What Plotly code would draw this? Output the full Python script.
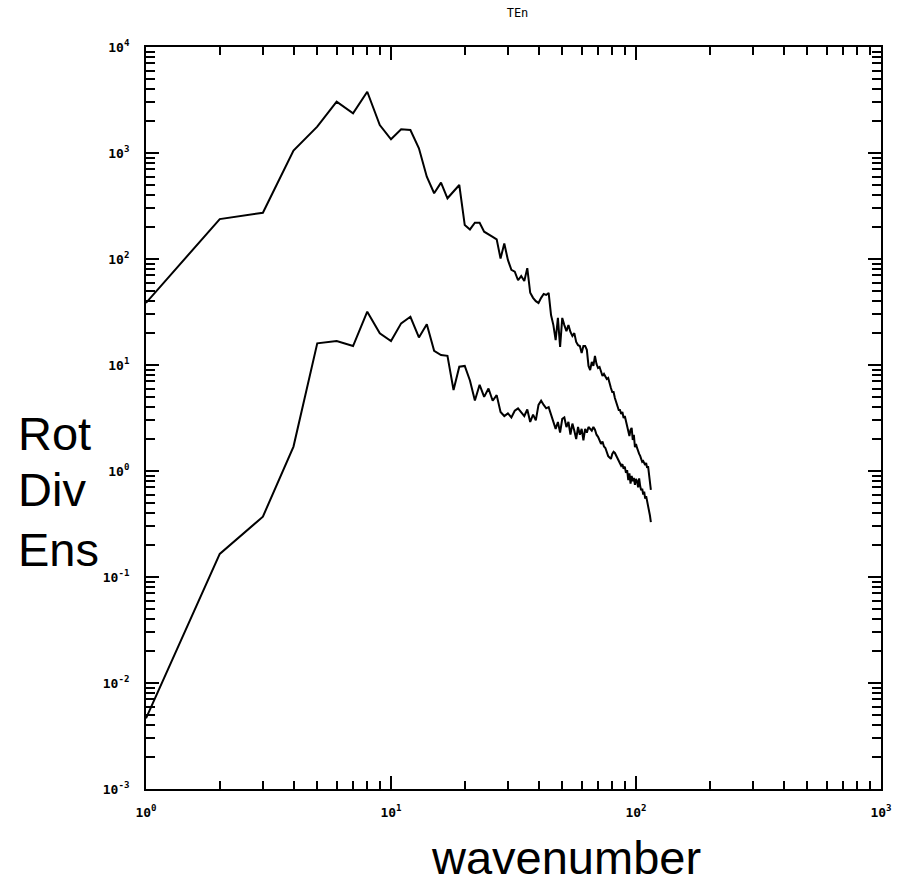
import plotly.graph_objects as go

# Spectra: integer wavenumbers 1..115
wavenumber = list(range(1, 116))

rot_spectrum = [
    38.5, 238, 273, 1052, 1770, 3050, 2370, 3785, 1837, 1346,
    1671, 1648, 1107, 597, 417, 525, 374, 431, 499, 209,
    190, 220, 220, 181, 172, 162, 153, 101, 140, 98,
    79, 76, 63, 69, 62, 82, 48, 43, 40, 38.5,
    43, 46.7, 45.8, 47.8, 29.6, 23.8, 17.2, 27.8, 14.8, 27.8,
    23.8, 20.9, 23.8, 20.5, 18.8, 20.0, 16.5, 15.4, 15.1, 13.0,
    15.1, 15.1, 13.9, 9.8, 8.97, 10.7, 9.8, 12.2, 10.2, 9.37,
    9.58, 8.59, 7.88, 8.23, 7.70, 7.38, 7.54, 6.62, 6.07, 5.56,
    5.56, 4.88, 4.48, 4.02, 3.76, 3.76, 3.45, 3.60, 3.16, 3.30,
    2.90, 2.60, 2.28, 2.14, 2.44, 2.55, 1.96, 2.19, 1.68, 1.80,
    1.65, 1.51, 1.45, 1.39, 1.27, 1.22, 1.24, 1.19, 1.14, 1.19,
    1.07, 1.11, 0.917, 0.738, 0.662,
]

div_spectrum = [
    0.00464, 0.165, 0.371, 1.70, 16.0, 16.8, 15.1, 31.8, 19.9, 16.8,
    24.7, 28.5, 18.2, 24.2, 13.6, 12.4, 12.2, 5.81, 9.64, 9.80,
    7.14, 4.62, 6.5, 5.0, 6.0, 4.6, 5.2, 3.6, 3.3, 3.5,
    3.2, 3.7, 3.9, 3.6, 3.3, 3.8, 2.9, 3.4, 3.0, 4.2,
    4.6, 4.2, 3.9, 4.0, 3.4, 2.9, 2.5, 2.9, 2.3, 3.1,
    3.2, 2.6, 2.9, 2.2, 2.8, 2.4, 2.0, 2.6, 2.2, 2.5,
    1.95, 2.5, 2.3, 2.6, 2.5, 2.4, 2.6, 2.45, 2.2, 2.1,
    1.95, 1.8, 1.9, 1.7, 1.65, 1.5, 1.38, 1.34, 1.30, 1.45,
    1.52, 1.48, 1.40, 1.35, 1.25, 1.18, 1.12, 1.16, 1.05, 1.10,
    0.96, 1.02, 0.82, 0.95, 0.76, 0.90, 0.80, 0.86, 0.74, 0.84,
    0.80, 0.70, 0.85, 0.72, 0.66, 0.68, 0.60, 0.64, 0.55, 0.58,
    0.52, 0.50, 0.45, 0.38, 0.33,
]

x_major = [1, 10, 100, 1000]
x_major_text = ["10<sup>0</sup>", "10<sup>1</sup>", "10<sup>2</sup>", "10<sup>3</sup>"]
y_major = [1e-3, 1e-2, 1e-1, 1, 10, 100, 1000, 1e4]
y_major_text = ["10<sup>-3</sup>", "10<sup>-2</sup>", "10<sup>-1</sup>", "10<sup>0</sup>",
                "10<sup>1</sup>", "10<sup>2</sup>", "10<sup>3</sup>", "10<sup>4</sup>"]

x_minor = [m * 10 ** e for e in range(0, 3) for m in range(2, 10)]
y_minor = [m * 10.0 ** e for e in range(-3, 4) for m in range(2, 10)]

line_style = dict(color="black", width=2)
tick_font = dict(family="DejaVu Sans Mono", size=13, color="black", weight="bold")
label_font = dict(family="Liberation Sans, Arial", size=47, color="black")

fig = go.Figure()
fig.add_trace(go.Scatter(x=wavenumber, y=rot_spectrum, mode="lines", line=line_style, name="Rot"))
fig.add_trace(go.Scatter(x=wavenumber, y=div_spectrum, mode="lines", line=line_style, name="Div"))

axis_common = dict(
    showline=True, linecolor="black", linewidth=2, mirror="allticks",
    ticks="inside", tickcolor="black", tickwidth=2, ticklen=13,
    showgrid=False, zeroline=False, tickfont=tick_font,
)

fig.update_xaxes(
    type="log", range=[0, 3], tickmode="array", tickvals=x_major, ticktext=x_major_text,
    ticklabelstandoff=10,
    minor=dict(tickmode="array", tickvals=x_minor, ticks="inside", ticklen=8,
               tickwidth=2, tickcolor="black", showgrid=False),
    **axis_common,
)
fig.update_yaxes(
    type="log", range=[-3, 4], tickmode="array", tickvals=y_major, ticktext=y_major_text,
    ticklabelstandoff=12,
    minor=dict(tickmode="array", tickvals=y_minor, ticks="inside", ticklen=9,
               tickwidth=2, tickcolor="black", showgrid=False),
    **axis_common,
)

# Stacked left-hand labels and the bottom axis caption
P_L, P_T, P_W, P_H = 146, 47, 743, 742

def px_to_paper(px, py):
    return (px - P_L) / P_W, (P_T + P_H - py) / P_H

annotations = []
for text, py in [("Rot", 434), ("Div", 489), ("Ens", 549)]:
    xp, yp = px_to_paper(15, py)
    annotations.append(dict(text=text, x=xp, y=yp, xref="paper", yref="paper",
                            xanchor="left", yanchor="middle", showarrow=False,
                            font=label_font))
xp, yp = px_to_paper(571, 857)
annotations.append(dict(text="wavenumber", x=xp, y=yp, xref="paper", yref="paper",
                        xanchor="center", yanchor="middle", showarrow=False,
                        font=label_font))

fig.update_layout(
    width=904, height=883,
    margin=dict(l=P_L, r=904 - P_L - P_W, t=P_T, b=883 - P_T - P_H),
    paper_bgcolor="white", plot_bgcolor="white",
    showlegend=False,
    title=dict(text="TEn", x=(P_L + P_W / 2) / 904, xanchor="center",
               y=1 - 13 / 883, yanchor="middle",
               font=dict(family="DejaVu Sans Mono", size=12, color="black")),
    annotations=annotations,
)

fig.write_html("out.html")
